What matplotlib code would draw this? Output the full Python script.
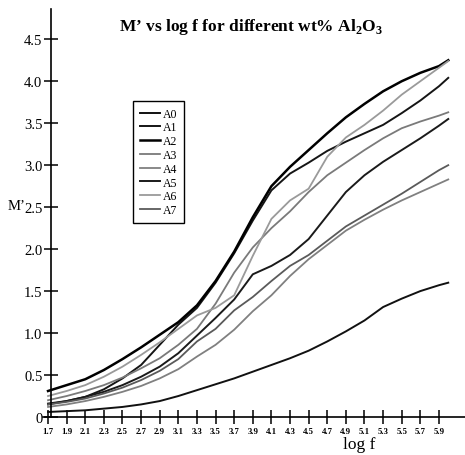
import numpy as np
import matplotlib
matplotlib.use("Agg")
import matplotlib.pyplot as plt

plt.rcParams['font.family'] = ['Liberation Serif', 'DejaVu Serif']
plt.rcParams['mathtext.fontset'] = 'custom'
plt.rcParams['mathtext.rm'] = 'Liberation Serif'
plt.rcParams['mathtext.bf'] = 'Liberation Serif:bold'

# log f sample points (tick positions plus the end point)
log_f = [1.7, 1.9, 2.1, 2.3, 2.5, 2.7, 2.9, 3.1, 3.3, 3.5, 3.7, 3.9,
         4.1, 4.3, 4.5, 4.7, 4.9, 5.1, 5.3, 5.5, 5.7, 5.9, 6.0]
tick_vals = [1.7, 1.9, 2.1, 2.3, 2.5, 2.7, 2.9, 3.1, 3.3, 3.5, 3.7,
             3.9, 4.1, 4.3, 4.5, 4.7, 4.9, 5.1, 5.3, 5.5, 5.7, 5.9]

# M' values
a0 = [0.06, 0.07, 0.08, 0.10, 0.12, 0.15, 0.19, 0.25, 0.32, 0.39, 0.46, 0.54,
      0.62, 0.70, 0.79, 0.90, 1.02, 1.15, 1.31, 1.41, 1.50, 1.57, 1.60]
a1 = [0.16, 0.19, 0.24, 0.33, 0.46, 0.62, 0.86, 1.10, 1.30, 1.60, 1.95, 2.34,
      2.70, 2.90, 3.03, 3.17, 3.28, 3.38, 3.48, 3.62, 3.77, 3.94, 4.04]
a2 = [0.31, 0.38, 0.45, 0.56, 0.69, 0.83, 0.98, 1.13, 1.33, 1.62, 1.97, 2.38,
      2.75, 2.98, 3.18, 3.38, 3.57, 3.73, 3.88, 4.00, 4.10, 4.18, 4.25]
a3 = [0.20, 0.25, 0.31, 0.38, 0.47, 0.58, 0.70, 0.86, 1.05, 1.35, 1.72, 2.02,
      2.25, 2.45, 2.68, 2.88, 3.03, 3.18, 3.32, 3.44, 3.52, 3.59, 3.63]
a4 = [0.12, 0.15, 0.19, 0.24, 0.30, 0.37, 0.46, 0.57, 0.72, 0.86, 1.04, 1.26,
      1.45, 1.68, 1.88, 2.05, 2.22, 2.35, 2.47, 2.58, 2.68, 2.78, 2.83]
a5 = [0.15, 0.19, 0.24, 0.30, 0.38, 0.48, 0.60, 0.76, 0.97, 1.18, 1.40, 1.70,
      1.80, 1.93, 2.12, 2.40, 2.68, 2.88, 3.04, 3.18, 3.32, 3.47, 3.55]
a6 = [0.25, 0.31, 0.38, 0.48, 0.60, 0.74, 0.89, 1.05, 1.21, 1.30, 1.45, 1.92,
      2.36, 2.58, 2.72, 3.10, 3.33, 3.48, 3.65, 3.84, 4.00, 4.16, 4.24]
a7 = [0.15, 0.18, 0.22, 0.28, 0.35, 0.44, 0.55, 0.69, 0.90, 1.05, 1.27, 1.43,
      1.62, 1.80, 1.93, 2.10, 2.27, 2.40, 2.53, 2.66, 2.80, 2.94, 3.00]

series = [("A0", a0, "#111111", 1.4),
          ("A1", a1, "#151515", 1.4),
          ("A2", a2, "#000000", 1.8),
          ("A3", a3, "#7a7a7a", 1.3),
          ("A4", a4, "#808080", 1.3),
          ("A5", a5, "#1a1a1a", 1.4),
          ("A6", a6, "#9a9a9a", 1.3),
          ("A7", a7, "#5a5a5a", 1.3)]

fig = plt.figure(figsize=(4.65, 4.56), dpi=100)
ax = fig.add_axes([0.0925, 0.0833, 0.9075, 0.8947])

for name, vals, col, lw in series:
    ax.plot(log_f, vals, color=col, lw=lw, label=name)

ax.set_xlim(1.646, 6.18)
ax.set_ylim(0, 4.86)

for s in ['top', 'right']:
    ax.spines[s].set_visible(False)
ax.spines['left'].set_position(('data', 1.73))
ax.spines['left'].set_linewidth(1.2)
ax.spines['bottom'].set_linewidth(1.2)

ax.set_xticks(tick_vals)
ax.set_xticklabels([f"{v:.1f}" for v in tick_vals], fontsize=6.3, fontweight='bold')
ax.set_yticks([0, 0.5, 1.0, 1.5, 2.0, 2.5, 3.0, 3.5, 4.0, 4.5])
ax.set_yticklabels(["0", "0.5", "1.0", "1.5", "2.0", "2.5", "3.0", "3.5", "4.0", "4.5"],
                   fontsize=10.5)
ax.tick_params(axis='both', direction='inout', length=10, width=1.1, colors='black')
ax.tick_params(axis='x', pad=2)
ax.tick_params(axis='y', pad=1)

ax.text(-0.085, 2.5 / 4.86 + 0.004, "M\u2019", transform=ax.transAxes,
        fontsize=10.5, ha='left', va='center')
ax.text(0.75, -0.065, "log f", transform=ax.transAxes, fontsize=12.5,
        ha='center', va='center')

fig.text(0.54, 0.94, r"M’ vs log f for different wt% Al$_\mathbf{2}$O$_\mathbf{3}$",
         fontsize=12.5, fontweight='bold', ha='center', va='center')

leg = ax.legend(loc='upper left', bbox_to_anchor=(0.2, 0.79), fontsize=8.5,
                handlelength=1.7, handletextpad=0.2, labelspacing=0.15,
                borderpad=0.6, fancybox=False, framealpha=1, edgecolor='black')
leg.get_frame().set_linewidth(1.0)

fig.savefig("out.png", dpi=100)
